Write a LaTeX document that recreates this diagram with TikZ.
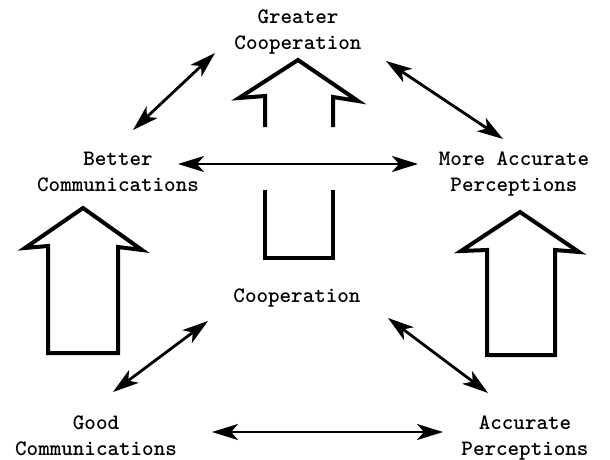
\documentclass[tikz,border=0pt]{standalone}
\usetikzlibrary{arrows.meta}
\tikzset{
  notion/.style={font=\fontsize{22}{26}\selectfont\ttfamily\bfseries,align=center,inner sep=0pt},
  link/.style={line width=2.8pt,{Stealth[length=26pt,width=16pt,inset=7pt]}-{Stealth[length=26pt,width=16pt,inset=7pt]}},
  hollow/.style={line width=4pt,line join=miter,miter limit=20}
}
\begin{document}
\begin{tikzpicture}[x=1pt,y=-1pt]
\useasboundingbox (0,0) rectangle (610,460);
\node[notion] (gc) at (298,32) {Greater\\Cooperation};
\node[notion] (bc) at (118,172) {Better\\Communications};
\node[notion] (map) at (514,174) {More Accurate\\Perceptions};
\node[notion] (coop) at (297,298) {Cooperation};
\node[notion] (good) at (96,436) {Good\\Communications};
\node[notion] (ap) at (525,438) {Accurate\\Perceptions};
% tips of the links
\coordinate (gc-bc) at (215,53);   \coordinate (bc-gc) at (133,130);
\coordinate (gc-map) at (386,61);  \coordinate (map-gc) at (503,139);
\coordinate (bc-map) at (178,164); \coordinate (map-bc) at (418,164);
\coordinate (coop-good) at (208,321); \coordinate (good-coop) at (113,392);
\coordinate (coop-ap) at (388,318);   \coordinate (ap-coop) at (488,393);
\coordinate (good-ap) at (212,432);   \coordinate (ap-good) at (443,432);
\foreach \a/\b in {gc-bc/bc-gc,gc-map/map-gc,bc-map/map-bc,coop-good/good-coop,coop-ap/ap-coop,good-ap/ap-good}
  \draw[link] (\a) -- (\b);
% hollow arrows
\draw[hollow] (48,353) -- (48,246) -- (25,248) -- (83,208) -- (142,250) -- (118,247) -- (118,353) -- cycle;
\draw[hollow] (487,355) -- (487,250) -- (461,251) -- (520,212) -- (579,252) -- (555,250) -- (555,355) -- cycle;
\draw[hollow] (265,127) -- (265,96) -- (239,98) -- (298,60) -- (358,101) -- (333,97) -- (333,127);
\draw[hollow] (265,190) -- (265,258) -- (333,258) -- (333,190);
\end{tikzpicture}
\end{document}
